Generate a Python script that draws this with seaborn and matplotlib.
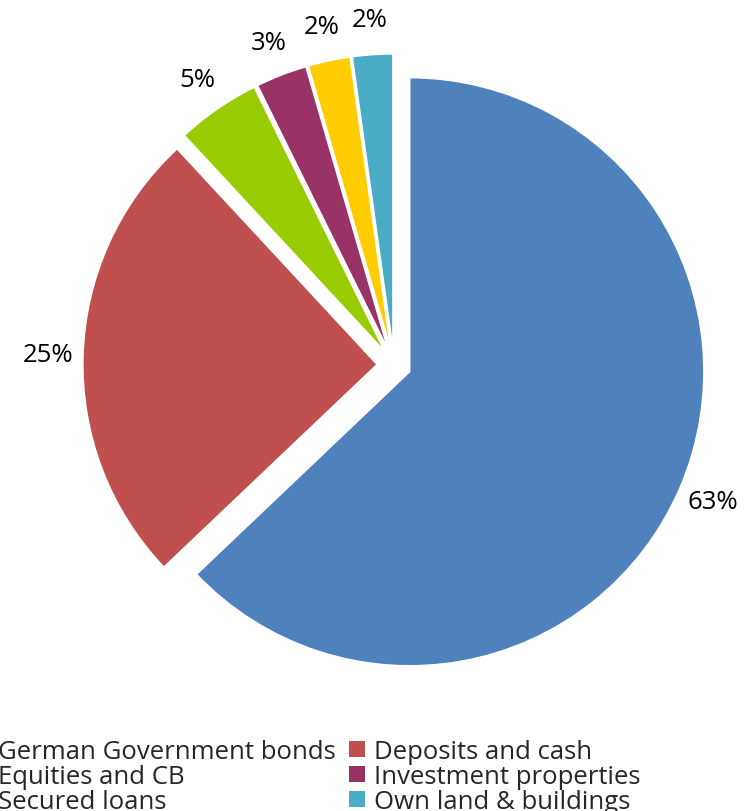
import matplotlib
matplotlib.use("Agg")
import matplotlib.pyplot as plt
import matplotlib.patches as mpatches
import seaborn as sns

# Portfolio composition (% of total investments)
categories = ["German Government bonds", "Deposits and cash", "Equities and CB",
              "Investment properties", "Secured loans", "Own land & buildings"]
shares = [62.9, 25.2, 4.6, 2.8, 2.3, 2.2]
colors = ["#4F81BD", "#C0504D", "#99CC00", "#993366", "#FFCC00", "#4BACC6"]

sns.set_theme(style="white")
plt.rcParams["font.family"] = ["Open Sans", "DejaVu Sans"]

FS = 18.5
fig = plt.figure(figsize=(7.44, 8.12), dpi=100)
ax = fig.add_axes([0, 0, 1, 1])

palette = sns.color_palette(colors)
wedges, texts, autotexts = ax.pie(
    shares,
    colors=palette,
    startangle=90,
    counterclock=False,
    explode=[0.058] * len(shares),
    autopct="%1.0f%%",
    pctdistance=1.12,
    wedgeprops=dict(edgecolor="white", linewidth=1),
    textprops=dict(fontsize=FS, color="black"),
)

# Fixed data window so the pie sits where it should on the canvas
ax.set_xlim(-1.340, 1.190)
ax.set_ylim(-1.517, 1.245)
ax.set_aspect("auto")
ax.axis("off")

# Two-column legend filled row by row
order = [0, 2, 4, 1, 3, 5]
handles = [mpatches.Patch(facecolor=palette[i], edgecolor="none") for i in order]
labels = [categories[i] for i in order]
em = FS * 100 / 72
fig.legend(
    handles, labels,
    ncol=2,
    loc="upper left",
    bbox_to_anchor=(-27 / 744, 1 - 740 / 812),
    frameon=False,
    fontsize=FS,
    handlelength=16 / em,
    handleheight=16 / em,
    handletextpad=9 / em,
    columnspacing=0.5,
    labelspacing=0.0,
    borderpad=0,
    borderaxespad=0,
)

fig.savefig("out.png", dpi=100)
